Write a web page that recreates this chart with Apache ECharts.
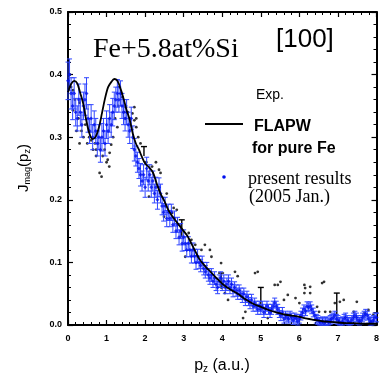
<!DOCTYPE html>
<html><head><meta charset="utf-8">
<script src="https://cdn.jsdelivr.net/npm/echarts@6/dist/echarts.min.js"></script>
<style>html,body{margin:0;padding:0;background:#fff}#c{width:382px;height:378px}</style>
</head><body><div id="c"></div>
<script>
// x ticks and y ticks
const xTicks = [0,1,2,3,4,5,6,7,8];
const yTicks = [0.0,0.1,0.2,0.3,0.4,0.5];

// present results (blue) : momentum, J, error
const blueX = [0.00,0.04,0.08,0.12,0.16,0.20,0.24,0.28,0.32,0.36,0.40,0.44,0.48,0.52,0.56,0.60,0.64,0.68,0.72,0.76,
0.80,0.84,0.88,0.92,0.96,1.00,1.04,1.08,1.12,1.16,1.20,1.24,1.28,1.32,1.36,1.40,1.44,1.48,1.52,1.56,
1.60,1.64,1.68,1.72,1.76,1.80,1.84,1.88,1.92,1.96,2.00,2.04,2.08,2.12,2.16,2.20,2.24,2.28,2.32,2.36,
2.40,2.44,2.48,2.52,2.56,2.60,2.64,2.68,2.72,2.76,2.80,2.84,2.88,2.92,2.96,3.00,3.04,3.08,3.12,3.16,
3.20,3.24,3.28,3.32,3.36,3.40,3.44,3.48,3.52,3.56,3.60,3.64,3.68,3.72,3.76,3.80,3.84,3.88,3.92,3.96,
4.00,4.04,4.08,4.12,4.16,4.20,4.24,4.28,4.32,4.36,4.40,4.44,4.48,4.52,4.56,4.60,4.64,4.68,4.72,4.76,
4.80,4.84,4.88,4.92,4.96,5.00,5.04,5.08,5.12,5.16,5.20,5.24,5.28,5.32,5.36,5.40,5.44,5.48,5.52,5.56,
5.60,5.64,5.68,5.72,5.76,5.80,5.84,5.88,5.92,5.96,6.00,6.04,6.08,6.12,6.16,6.20,6.24,6.28,6.32,6.36,
6.40,6.44,6.48,6.52,6.56,6.60,6.64,6.68,6.72,6.76,6.80,6.84,6.88,6.92,6.96,7.00,7.04,7.08,7.12,7.16,
7.20,7.24,7.28,7.32,7.36,7.40,7.44,7.48,7.52,7.56,7.60,7.64,7.68,7.72,7.76,7.80,7.84,7.88,7.92,7.96,8.00];
const blueY = [0.39,0.40,0.37,0.35,0.37,0.34,0.33,0.36,0.34,0.32,0.35,0.36,0.37,0.33,0.31,0.33,0.30,0.32,0.31,0.29,
0.30,0.28,0.30,0.31,0.29,0.32,0.31,0.33,0.32,0.34,0.35,0.36,0.37,0.36,0.37,0.35,0.34,0.33,0.34,0.32,
0.31,0.33,0.30,0.28,0.27,0.26,0.25,0.24,0.23,0.24,0.22,0.25,0.23,0.24,0.22,0.23,0.21,0.22,0.20,0.22,
0.21,0.19,0.18,0.19,0.17,0.18,0.17,0.18,0.16,0.17,0.15,0.16,0.14,0.15,0.13,0.14,0.13,0.12,0.13,0.12,
0.11,0.12,0.11,0.10,0.11,0.10,0.095,0.10,0.09,0.085,0.09,0.08,0.075,0.08,0.07,0.075,0.065,0.06,0.07,0.075,
0.065,0.07,0.06,0.065,0.07,0.06,0.065,0.055,0.06,0.055,0.05,0.055,0.05,0.045,0.05,0.04,0.045,0.04,0.035,0.04,
0.03,0.035,0.03,0.025,0.03,0.025,0.03,0.02,0.025,0.03,0.025,0.02,0.025,0.03,0.035,0.03,0.025,0.02,0.015,0.02,
0.01,0.015,0.012,0.01,0.015,0.012,0.008,0.012,0.01,0.006,0.01,0.015,0.02,0.025,0.022,0.03,0.028,0.03,0.025,0.02,
0.015,0.01,0.008,0.005,0.004,0.006,0.003,0.005,0.006,0.004,0.008,0.01,0.012,0.015,0.01,0.008,0.005,0.003,0.006,0.01,
0.012,0.008,0.005,0.004,0.008,0.012,0.015,0.012,0.008,0.005,0.008,0.012,0.015,0.018,0.015,0.01,0.006,0.005,0.008,0.012,0.012];
const blueErr = [0.03,0.025,0.025,0.022,0.025,0.022,0.02,0.025,0.022,0.02,0.022,0.025,0.025,0.022,0.02,0.022,0.02,0.022,0.02,0.02,
0.02,0.02,0.022,0.02,0.02,0.022,0.02,0.022,0.02,0.022,0.022,0.02,0.022,0.02,0.02,0.02,0.02,0.02,0.02,0.02,
0.02,0.018,0.018,0.018,0.016,0.016,0.016,0.018,0.016,0.016,0.016,0.018,0.016,0.016,0.016,0.016,0.015,0.016,0.015,0.015,
0.015,0.014,0.014,0.014,0.013,0.013,0.013,0.013,0.012,0.012,0.012,0.012,0.012,0.012,0.012,0.012,0.011,0.011,0.011,0.011,
0.011,0.011,0.011,0.011,0.011,0.01,0.01,0.01,0.01,0.01,0.01,0.01,0.01,0.01,0.01,0.01,0.01,0.01,0.01,0.01,
0.01,0.01,0.01,0.01,0.01,0.01,0.01,0.01,0.009,0.009,0.009,0.009,0.009,0.009,0.009,0.009,0.009,0.009,0.009,0.009,
0.008,0.008,0.008,0.008,0.008,0.008,0.008,0.008,0.008,0.008,0.008,0.008,0.008,0.008,0.008,0.008,0.008,0.008,0.008,0.008,
0.007,0.007,0.007,0.007,0.007,0.007,0.007,0.007,0.007,0.007,0.007,0.007,0.007,0.007,0.007,0.007,0.007,0.007,0.007,0.007,
0.007,0.007,0.007,0.007,0.007,0.007,0.007,0.007,0.007,0.007,0.007,0.007,0.007,0.007,0.007,0.007,0.007,0.007,0.007,0.007,
0.007,0.007,0.007,0.007,0.007,0.007,0.007,0.007,0.007,0.007,0.007,0.007,0.007,0.007,0.007,0.007,0.007,0.007,0.007,0.007,0.007];

// FLAPW for pure Fe (line)
const flapwX = [0.00,0.08,0.16,0.24,0.32,0.40,0.48,0.56,0.64,0.72,0.80,0.88,0.96,1.04,1.12,1.20,1.28,1.36,1.44,1.52,
1.60,1.68,1.76,1.84,1.92,2.00,2.10,2.20,2.30,2.40,2.50,2.60,2.70,2.80,2.90,3.00,3.10,3.20,3.30,3.40,
3.50,3.60,3.70,3.80,3.90,4.00,4.20,4.40,4.60,4.80,5.00,5.20,5.40,5.60,5.80,6.00,6.20,6.40,6.60,6.80,
7.00,7.20,7.40,7.60,7.80,8.00];
const flapwY = [0.372,0.385,0.390,0.386,0.370,0.352,0.325,0.305,0.297,0.301,0.315,0.338,0.362,0.380,0.388,0.393,0.390,0.378,0.362,0.343,
0.328,0.306,0.290,0.280,0.268,0.258,0.252,0.244,0.226,0.210,0.198,0.184,0.174,0.166,0.158,0.150,0.142,0.130,0.118,0.106,
0.098,0.091,0.085,0.078,0.072,0.066,0.057,0.050,0.041,0.034,0.029,0.024,0.020,0.017,0.015,0.013,0.010,0.008,0.006,0.005,
0.004,0.003,0.003,0.002,0.002,0.002];

// Exp. (black dots)
const expX = [0.05,0.08,0.13,0.13,0.18,0.22,0.27,0.30,0.30,0.35,0.40,0.45,0.50,0.55,0.60,0.65,0.70,0.73,0.73,0.78,
0.82,0.87,0.90,0.95,1.00,1.03,1.07,1.08,1.12,1.17,1.22,1.28,1.30,1.33,1.38,1.41,1.45,1.50,1.50,1.55,
1.60,1.67,1.72,1.72,1.77,1.77,1.82,1.88,2.03,2.10,2.18,2.28,2.36,2.40,2.49,2.54,2.56,2.70,2.74,2.82,
3.04,3.13,3.20,3.30,3.46,3.55,3.68,3.72,3.97,4.00,4.07,4.15,4.33,4.40,4.54,4.60,4.85,4.92,5.18,5.36,
5.44,5.44,5.51,5.60,5.70,5.90,6.00,6.13,6.15,6.13,6.28,6.28,6.46,6.51,6.59,6.64,6.67,6.80,6.92,7.05,
7.15,7.41,7.49,7.69,7.79,7.92];
const expY = [0.400,0.380,0.375,0.343,0.360,0.310,0.330,0.355,0.290,0.310,0.300,0.320,0.290,0.300,0.295,0.280,0.290,0.280,0.270,0.290,
0.243,0.237,0.270,0.280,0.260,0.264,0.253,0.275,0.288,0.300,0.330,0.316,0.350,0.380,0.370,0.364,0.340,0.348,0.330,0.340,
0.330,0.338,0.327,0.348,0.316,0.330,0.300,0.290,0.260,0.205,0.253,0.260,0.248,0.243,0.173,0.190,0.210,0.179,0.187,0.184,
0.109,0.147,0.136,0.128,0.120,0.128,0.120,0.109,0.099,0.060,0.051,0.040,0.085,0.078,0.011,0.021,0.083,0.085,0.011,0.064,
0.064,0.019,0.069,0.040,0.048,0.043,0.035,0.051,0.059,0.064,0.061,0.051,0.029,0.021,0.067,0.069,0.021,0.021,0.035,0.037,
0.040,0.021,0.037,0.019,0.024,0.016];
// Exp. representative error bars (x, low, high)
const expErrX = [1.97,2.95,3.97,5.00,6.97];
const expErrLo = [0.270,0.140,0.058,0.030,0.013];
const expErrHi = [0.285,0.168,0.083,0.060,0.051];

const chart = echarts.init(document.getElementById('c'), null, {renderer:'canvas'});
const tickFont = {fontFamily:'Liberation Sans, Arial', fontSize:9, fontWeight:'bold', color:'#000'};
const axisCommon = {
  axisLine:{show:true, onZero:false, lineStyle:{color:'#000', width:2}},
  axisTick:{show:true, inside:true, length:5, lineStyle:{color:'#000', width:1.2}},
  minorTick:{show:true, splitNumber:5, length:3, lineStyle:{color:'#000', width:1}},
  splitLine:{show:false}
};
const blueData = blueX.map((x,i)=>[x, blueY[i], blueErr[i]]);
const expData = expX.map((x,i)=>[x, expY[i]]);
const errData = expErrX.map((x,i)=>[x, expErrLo[i], expErrHi[i]]);
const flapwData = flapwX.map((x,i)=>[x, flapwY[i]]);

const sans = '"Liberation Sans", Arial, sans-serif';
const serif = '"Liberation Serif", "Times New Roman", serif';

chart.setOption({
  animation:false,
  grid:{left:68, right:2, top:12, height:313},
  xAxis:[
    Object.assign({type:'value', min:xTicks[0], max:xTicks[xTicks.length-1], interval:1, position:'bottom',
      axisLabel:Object.assign({margin:9, formatter:v=>String(v)}, tickFont)}, axisCommon),
    Object.assign({type:'value', min:0, max:8, interval:1, position:'top', axisLabel:{show:false}}, axisCommon)
  ],
  yAxis:[
    Object.assign({type:'value', min:yTicks[0], max:yTicks[yTicks.length-1], interval:0.1, position:'left',
      axisLabel:Object.assign({margin:6, formatter:v=>v.toFixed(1)}, tickFont)}, axisCommon),
    Object.assign({type:'value', min:0, max:0.5, interval:0.1, position:'right', axisLabel:{show:false}}, axisCommon)
  ],
  series:[
    {type:'scatter', data:expData, symbol:'circle', symbolSize:2.8, itemStyle:{color:'#000'}, z:2},
    {type:'custom', data:errData, z:3, renderItem:function(params, api){
      const top = api.coord([api.value(0), api.value(2)]);
      const bot = api.coord([api.value(0), api.value(1)]);
      return {type:'group', children:[
        {type:'line', shape:{x1:top[0], y1:top[1], x2:bot[0], y2:bot[1]}, style:{stroke:'#000', lineWidth:1.4}},
        {type:'line', shape:{x1:top[0]-3, y1:top[1], x2:top[0]+3, y2:top[1]}, style:{stroke:'#000', lineWidth:1.4}}
      ]};
    }},
    {type:'custom', data:blueData, z:4, renderItem:function(params, api){
      const x = api.value(0), y = api.value(1), e = api.value(2);
      const hi = api.coord([x, y+e]);
      const lo = api.coord([x, Math.max(0, y-e)]);
      const c = '#2f45ff';
      return {type:'group', children:[
        {type:'line', shape:{x1:hi[0], y1:hi[1], x2:lo[0], y2:lo[1]}, style:{stroke:c, lineWidth:1}},
        {type:'line', shape:{x1:hi[0]-2.5, y1:hi[1], x2:hi[0]+2.5, y2:hi[1]}, style:{stroke:c, lineWidth:1}},
        {type:'line', shape:{x1:lo[0]-2.5, y1:lo[1], x2:lo[0]+2.5, y2:lo[1]}, style:{stroke:c, lineWidth:1}}
      ]};
    }},
    {type:'scatter', data:blueData.map(d=>[d[0], d[1]]), symbol:'diamond', symbolSize:4, itemStyle:{color:'#0010ee'}, z:5},
    {type:'line', data:flapwData, showSymbol:false, smooth:0.3, lineStyle:{color:'#000', width:1.8}, z:6}
  ],
  graphic:[
    {type:'text', x:93, y:36, style:{text:'Fe+5.8at%Si', font:'28px ' + serif, fill:'#000', verticalAlign:'top'}},
    {type:'text', x:276, y:27, style:{text:'[100]', font:'26px ' + sans, fill:'#000', verticalAlign:'top'}},
    {type:'text', x:256, y:88, style:{text:'Exp.', font:'14px ' + sans, fill:'#000', verticalAlign:'top'}},
    {type:'line', shape:{x1:205, y1:124, x2:243, y2:124}, style:{stroke:'#000', lineWidth:2}},
    {type:'text', x:254, y:119, style:{text:'FLAPW', font:'bold 16px ' + sans, fill:'#000', verticalAlign:'top'}},
    {type:'text', x:252, y:141, style:{text:'for pure Fe', font:'bold 16px ' + sans, fill:'#000', verticalAlign:'top'}},
    {type:'circle', shape:{cx:224, cy:177, r:1.8}, style:{fill:'#0010ee'}},
    {type:'text', x:248, y:170, style:{text:'present results', font:'18px ' + serif, fill:'#000', verticalAlign:'top'}},
    {type:'text', x:249, y:188, style:{text:'(2005 Jan.)', font:'18px ' + serif, fill:'#000', verticalAlign:'top'}},
    {type:'text', x:222, y:366, style:{
      rich:{n:{fontFamily:'Liberation Sans, Arial', fontSize:16, fill:'#000'}, s:{fontFamily:'Liberation Sans, Arial', fontSize:10, fill:'#000', padding:[7,0,0,0]}},
      text:'{n|p}{s|z}{n| (a.u.)}', align:'center', verticalAlign:'middle'}},
    {type:'text', x:24, y:168, rotation:Math.PI/2, style:{
      rich:{n:{fontFamily:'Liberation Sans, Arial', fontSize:15, fill:'#000'}, s:{fontFamily:'Liberation Sans, Arial', fontSize:9, fill:'#000', padding:[8,0,0,0]}},
      text:'{n|J}{s|mag}{n|(p}{s|z}{n|)}', align:'center', verticalAlign:'middle'}}
  ]
});
</script></body></html>
